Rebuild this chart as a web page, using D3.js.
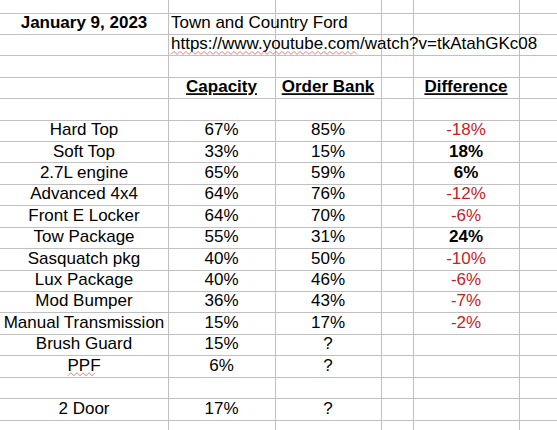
<!DOCTYPE html>
<html><head><meta charset="utf-8">
<script src="https://cdn.jsdelivr.net/npm/d3@7"></script>
<style>body{margin:0;background:#fff}svg{display:block}text{font-family:"Liberation Sans",Arial,sans-serif;font-size:17px}</style>
</head><body><svg id="sheet" width="557" height="430"></svg>
<script>
// table values
const features = ["Hard Top","Soft Top","2.7L engine","Advanced 4x4","Front E Locker","Tow Package","Sasquatch pkg","Lux Package","Mod Bumper","Manual Transmission","Brush Guard","PPF","","2 Door"];
const capacity = ["67%","33%","65%","64%","64%","55%","40%","40%","36%","15%","15%","6%","","17%"];
const orderBank = ["85%","15%","59%","76%","70%","31%","50%","46%","43%","17%","?","?","","?"];
const difference = ["-18%","18%","6%","-12%","-6%","24%","-10%","-6%","-7%","-2%","","","",""];
const headers = ["Capacity","Order Bank","Difference"];

const svg = d3.select("#sheet");
const colEdges = [0,168,275,381,413,519,557];
const rowCount = 20;
const y = d3.scaleLinear().domain([0, 19]).range([12.5, 419.5]);

// grid lines
svg.selectAll(".vline").data(colEdges.slice(1, -1)).enter().append("line")
  .attr("x1", d => d + 0.5).attr("x2", d => d + 0.5).attr("y1", 0).attr("y2", 430)
  .attr("stroke", "#c0c0c0");
svg.selectAll(".hline").data(d3.range(rowCount)).enter().append("line")
  .attr("x1", 0).attr("x2", 557).attr("y1", d => Math.round(y(d)) + 0.5).attr("y2", d => Math.round(y(d)) + 0.5)
  .attr("stroke", "#c0c0c0");

function cell(row, x, txt, opts = {}) {
  return svg.append("text")
    .attr("x", x).attr("y", y(row) + 15.5)
    .attr("text-anchor", opts.anchor || "middle")
    .attr("fill", opts.fill || "#000")
    .style("font-weight", opts.bold ? "bold" : "normal")
    .style("text-decoration", opts.underline ? "underline" : "none")
    .text(txt);
}

cell(0, 84, "January 9, 2023", {bold: true});
cell(0, 171, "Town and Country Ford", {anchor: "start"});
cell(1, 171, "https://www.youtube.com/watch?v=tkAtahGKc08", {anchor: "start"});
// spell check squiggle under "https://www.youtube"
const squig = d3.range(171, 360, 3).map((x, i) => [x, y(1) + 19 + (i % 2 ? -1.5 : 1.5)]);
svg.append("path").attr("d", d3.line()(squig)).attr("fill", "none").attr("stroke", "#e0595a").attr("stroke-width", 0.8);

const headX = [221.5, 328, 466];
headers.forEach((h, i) => cell(3, headX[i], h, {bold: true, underline: true}));

features.forEach((f, i) => {
  const r = 5 + i;
  cell(r, 84, f);
  cell(r, headX[0], capacity[i]);
  cell(r, headX[1], orderBank[i]);
  const d = difference[i];
  if (d) {
    const neg = d.startsWith("-");
    cell(r, headX[2], d, {fill: neg ? "#c9211e" : "#000", bold: !neg});
  }
});
// squiggle under PPF
const rp = 5 + features.indexOf("PPF");
const sq2 = d3.range(68, 98, 3).map((x, i) => [x, y(rp) + 19 + (i % 2 ? -1.5 : 1.5)]);
svg.append("path").attr("d", d3.line()(sq2)).attr("fill", "none").attr("stroke", "#e0595a").attr("stroke-width", 0.8);
</script></body></html>
